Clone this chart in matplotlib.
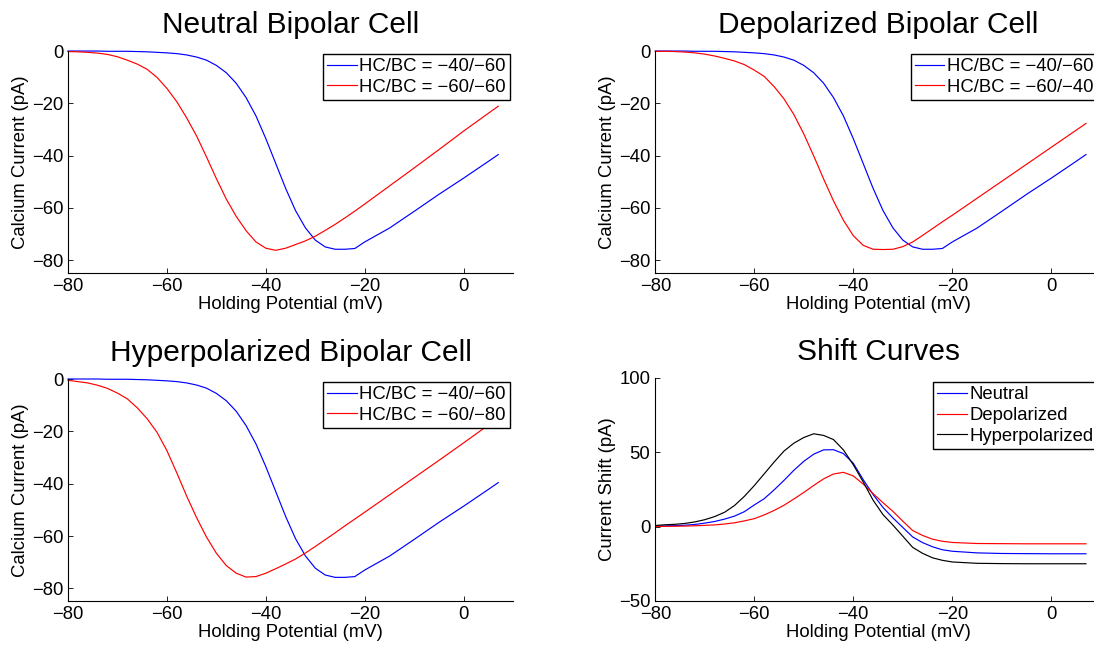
import matplotlib
matplotlib.use("Agg")
import matplotlib.pyplot as plt

plt.rcParams["font.family"] = ["Liberation Sans", "DejaVu Sans"]

# holding potential (mV)
volts = [-80, -78, -76, -74, -72, -70, -68, -66, -64, -62, -60, -58, -56, -54, -52, -50,
         -48, -46, -44, -42, -40, -38, -36, -34, -32, -30, -28, -26, -24, -22, -20,
         -15, -10, -5, 0, 5, 7]

# calcium current (pA), HC/BC = -40/-60 (same curve in all three IV panels)
i_40_60 = [0.0, 0.0, 0.0, 0.0, -0.1, -0.1, -0.1, -0.2, -0.3, -0.5, -0.7, -1.0, -1.5, -2.3, -3.5, -5.5,
           -8.3, -12.3, -17.8, -24.8, -33.5, -43.0, -52.5, -61.0, -67.6, -72.3, -74.9, -75.8, -75.8, -75.5, -73.0,
           -67.7, -61.3, -54.8, -48.6, -42.2, -39.6]
i_60_60 = [-0.2, -0.3, -0.5, -0.8, -1.3, -2.2, -3.5, -5.0, -7.0, -10.1, -14.3, -19.4, -25.6, -32.5, -40.5, -48.8,
           -56.6, -63.2, -68.7, -73.0, -75.4, -76.2, -75.4, -74.0, -72.6, -70.8, -68.6, -66.3, -63.8, -61.2, -58.5,
           -51.6, -44.7, -37.7, -30.6, -23.8, -21.1]
i_60_40 = [-0.1, -0.1, -0.2, -0.4, -0.7, -1.2, -1.9, -2.8, -3.8, -5.2, -7.3, -9.7, -13.6, -18.3, -24.3, -31.7,
           -40.1, -48.9, -57.3, -64.7, -70.6, -74.3, -75.8, -75.9, -75.8, -74.8, -73.0, -70.5, -67.9, -65.3, -62.8,
           -56.3, -49.8, -43.3, -36.8, -30.3, -27.7]
i_60_80 = [-0.5, -1.0, -1.5, -2.4, -3.6, -5.4, -7.6, -11.0, -15.2, -20.4, -27.4, -35.9, -44.8, -53.0, -60.4, -66.6,
           -71.3, -74.2, -75.7, -75.5, -74.2, -72.5, -70.7, -68.8, -66.5, -64.0, -61.4, -58.8, -56.1, -53.5, -50.9,
           -44.3, -37.7, -31.1, -24.4, -17.6, -14.9]

# current shift (pA)
shift_neutral = [0.3, 0.4, 0.6, 0.9, 1.4, 2.3, 3.4, 5.0, 7.0, 10.0, 14.5, 18.7, 24.6, 31.0, 37.8, 43.8,
                 48.6, 51.5, 51.6, 49.0, 42.5, 31.5, 21.5, 12.8, 5.8, -0.6, -7.0, -10.8, -13.6, -15.6, -16.6,
                 -17.7, -18.1, -18.2, -18.3, -18.3, -18.3]
shift_depol = [0.0, 0.1, 0.2, 0.3, 0.5, 0.8, 1.1, 1.7, 2.5, 3.8, 5.3, 7.8, 10.8, 14.3, 18.5, 22.9,
               27.6, 32.0, 35.3, 36.4, 34.0, 28.5, 22.1, 16.0, 10.2, 3.6, -2.7, -6.0, -8.5, -9.9, -10.7,
               -11.4, -11.5, -11.6, -11.6, -11.6, -11.6]
shift_hyper = [0.7, 1.2, 1.5, 2.1, 3.1, 4.6, 6.7, 9.6, 14.1, 20.3, 27.5, 35.4, 43.3, 50.7, 56.0, 59.8,
               62.3, 61.2, 58.4, 51.5, 41.5, 30.0, 17.7, 8.0, 1.0, -6.5, -14.0, -18.0, -21.0, -22.7, -23.8,
               -24.7, -24.9, -25.0, -25.0, -25.0, -25.0]

FS = 13.3


def style_axes(ax, ylim, yticks, ylabel, title):
    ax.set_xlim(-80, 10)
    ax.set_ylim(*ylim)
    ax.set_xticks([-80, -60, -40, -20, 0])
    ax.set_yticks(yticks)
    ax.spines["top"].set_visible(False)
    ax.spines["right"].set_visible(False)
    for s in ("left", "bottom"):
        ax.spines[s].set_linewidth(0.8)
    ax.tick_params(direction="in", length=3.4, width=0.6, labelsize=FS, pad=3.5)
    ax.set_xlabel("Holding Potential (mV)", fontsize=FS, labelpad=0.5)
    ax.set_ylabel(ylabel, fontsize=FS, labelpad=2)
    ax.set_title(title, fontsize=21.5, pad=13)


def add_legend(ax, anchor):
    leg = ax.legend(loc="upper right", bbox_to_anchor=anchor, borderaxespad=0, fontsize=FS,
                    frameon=True, fancybox=False, framealpha=1, edgecolor="black",
                    borderpad=0.22, labelspacing=0.2, handlelength=1.6, handletextpad=0.15)
    leg.get_frame().set_linewidth(1.0)
    leg.set_zorder(10)


def plot_iv(ax, red, red_label, title):
    ax.plot(volts, i_40_60, color="blue", lw=0.85, label="HC/BC = \u221240/\u221260",
            clip_on=False, solid_joinstyle="round")
    ax.plot(volts, red, color="red", lw=0.85, label=red_label, clip_on=False, solid_joinstyle="round")
    style_axes(ax, (-85, 0), [-80, -60, -40, -20, 0], "Calcium Current (pA)", title)
    add_legend(ax, (0.993, 0.986))


fig = plt.figure(figsize=(10.94, 6.46), dpi=100)
ax_tl = fig.add_axes([0.0622, 0.5769, 0.4068, 0.3441])
ax_tr = fig.add_axes([0.599, 0.5769, 0.4072, 0.3441])
ax_bl = fig.add_axes([0.0622, 0.0690, 0.4068, 0.3443])
ax_br = fig.add_axes([0.599, 0.0697, 0.4072, 0.3457])

plot_iv(ax_tl, i_60_60, "HC/BC = \u221260/\u221260", "Neutral Bipolar Cell")
plot_iv(ax_tr, i_60_40, "HC/BC = \u221260/\u221240", "Depolarized Bipolar Cell")
plot_iv(ax_bl, i_60_80, "HC/BC = \u221260/\u221280", "Hyperpolarized Bipolar Cell")

ax_br.plot(volts, shift_neutral, color="blue", lw=0.85, label="Neutral", solid_joinstyle="round")
ax_br.plot(volts, shift_depol, color="red", lw=0.85, label="Depolarized", solid_joinstyle="round")
ax_br.plot(volts, shift_hyper, color="black", lw=0.85, label="Hyperpolarized", solid_joinstyle="round")
style_axes(ax_br, (-50, 100), [-50, 0, 50, 100], "Current Shift (pA)", "Shift Curves")
add_legend(ax_br, (0.993, 0.979))

fig.savefig("out.png", dpi=100)
